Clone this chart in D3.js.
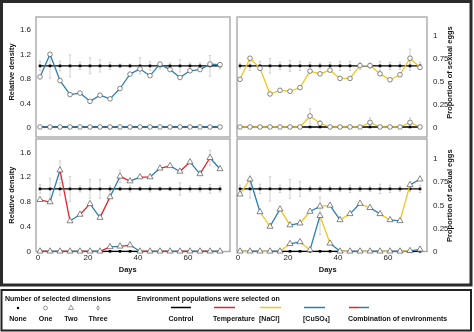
<!DOCTYPE html>
<html><head><meta charset="utf-8">
<script src="https://cdn.jsdelivr.net/npm/d3@7"></script>
<style>
html,body{margin:0;padding:0;background:#fff;}
svg{display:block;font-family:"Liberation Sans",Arial,sans-serif;will-change:transform;}
</style></head>
<body><svg id="c" width="474" height="332"></svg>
<script>
// ---------------- DATA ----------------
const days = [1,5,9,13,17,21,25,29,33,37,41,45,49,53,57,61,65,69,73];
const xTicks = [0,20,40,60];
const densityTicks = [0,0.4,0.8,1.2,1.6];
const propTicks = [0,0.25,0.5,0.75,1];

// control (relative density = 1, and zero line)
const controlDensity = [1,1,1,1,1,1,1,1,1,1,1,1,1,1,1,1,1,1,1];
const controlProp    = [0.667,0.667,0.667,0.667,0.667,0.667,0.667,0.667,0.667,0.667,0.667,0.667,0.667,0.667,0.667,0.667,0.667,0.667,0.667];
const controlZero    = [0,0,0,0,0,0,0,0,0,0,0,0,0,0,0,0,0,0,0];
const ctlErrTL = [0.08,0.2,0.08,0.18,0.06,0.13,0.1,0.06,0.03,0.03,0.13,0.07,0.05,0.05,0.1,0.05,0.05,0.17,0.05];
const ctlErrTR = [0.03,0.05,0.05,0.08,0.04,0.06,0.05,0.04,0.03,0.04,0.05,0.05,0.04,0.03,0.05,0.04,0.04,0.05,0.04];
const ctlErrBL = [0.07,0.17,0.1,0.2,0.05,0.15,0.15,0.05,0.03,0.05,0.03,0.05,0.03,0.03,0.1,0.05,0.05,0.07,0.05];
const ctlErrBR = [0.04,0.1,0.05,0.13,0.04,0.1,0.08,0.03,0.03,0.03,0.03,0.04,0.03,0.03,0.05,0.04,0.03,0.03,0.04];

// top-left: [CuSO4], one dimension
const tlUpper = [0.82,1.19,0.76,0.53,0.555,0.42,0.52,0.46,0.63,0.865,0.95,0.84,1.03,0.94,0.81,0.92,0.94,1.03,1.02];
const tlLower = [0,0,0,0,0,0,0,0,0,0,0,0,0,0,0,0,0,0,0];
// top-right: [NaCl], one dimension
const trUpper = [0.52,0.75,0.64,0.36,0.40,0.39,0.43,0.61,0.58,0.62,0.53,0.53,0.67,0.67,0.58,0.515,0.57,0.75,0.65];
const trLower = [0,0,0,0,0,0,0,0.12,0.04,0,0,0,0,0.05,0,0,0,0.05,0];
const trLowerErr = [null,null,null,null,null,null,null,0.08,0.03,null,null,null,null,0.05,null,null,null,0.05,null];
const trUpperErr = [null,null,null,null,null,null,null,null,null,null,null,null,null,null,null,null,null,0.1,null];
// bottom-left: temperature + [CuSO4], two dimensions
const blUpper = [0.826,0.79,1.30,0.485,0.59,0.76,0.54,0.87,1.20,1.125,1.19,1.19,1.33,1.37,1.28,1.43,1.24,1.50,1.32];
const blLower = [0,0,0,0,0,0,0,0.07,0.08,0.10,0,0,0,0,0,0,0,0,0];
const blUpperErr = [null,null,0.15,null,null,null,null,null,0.1,null,null,null,null,null,null,null,null,0.12,null];
// bottom-right: [NaCl] + [CuSO4], two dimensions
const brUpper = [0.61,0.77,0.42,0.265,0.45,0.28,0.30,0.425,0.48,0.49,0.335,0.40,0.51,0.465,0.40,0.335,0.325,0.71,0.77];
const brLower = [0,0,0,0,0,0.08,0.10,0.015,0.38,0.085,0,0,0,0,0,0,0,0.005,0.02];
const brLowerErr = [null,null,null,null,null,null,null,null,0.2,null,null,null,null,null,null,null,null,null,null];

// ---------------- STYLE ----------------
const RED = "#e3242b", YEL = "#f1c61f", BLU = "#2b7fb3", CTL = "#000";
const FRAME = "#a9a9a9", ERR = "#c4c4c4", MK = "#555", TXT = "#111";

const svg = d3.select("#c");

// outer frames
svg.append("rect").attr("x",1.5).attr("y",1.5).attr("width",469.5).attr("height",283.5)
  .attr("fill","none").attr("stroke","#2b2b2b").attr("stroke-width",3);
svg.append("rect").attr("x",1.5).attr("y",290).attr("width",469.5).attr("height",40.5)
  .attr("fill","none").attr("stroke","#222").attr("stroke-width",2);

const cols = [
  {frame:[36,230], x:d3.scaleLinear().domain([0,73]).range([37.5,220])},
  {frame:[237,427], x:d3.scaleLinear().domain([0,73]).range([237.5,420])}
];
const rows = [
  {frame:[17,137], zero:127, top:17},
  {frame:[139,251.5], zero:251.3, top:139}
];

const panels = [
  {c:0,r:0,unit:"density",upper:tlUpper,lower:tlLower,colors:[BLU,BLU],marker:d3.symbolCircle,ctl:controlDensity,ctlErr:ctlErrTL},
  {c:1,r:0,unit:"prop",upper:trUpper,lower:trLower,colors:[YEL,YEL],marker:d3.symbolCircle,ctl:controlProp,ctlErr:ctlErrTR,lowerErr:trLowerErr,upperErr:trUpperErr},
  {c:0,r:1,unit:"density",upper:blUpper,lower:blLower,colors:[RED,BLU],marker:d3.symbolTriangle,ctl:controlDensity,ctlErr:ctlErrBL,upperErr:blUpperErr},
  {c:1,r:1,unit:"prop",upper:brUpper,lower:brLower,colors:[YEL,BLU],marker:d3.symbolTriangle,ctl:controlProp,ctlErr:ctlErrBR,lowerErr:brLowerErr}
];

panels.forEach(p=>{
  const col = cols[p.c], row = rows[p.r];
  const x = col.x;
  const y = d3.scaleLinear().domain(p.unit==="density"?[0,1.8]:[0,1.2]).range([row.zero,row.top]);
  const g = svg.append("g");

  // frame
  g.append("rect").attr("x",col.frame[0]).attr("y",row.frame[0])
    .attr("width",col.frame[1]-col.frame[0]).attr("height",row.frame[1]-row.frame[0])
    .attr("fill","none").attr("stroke",FRAME).attr("stroke-width",1.4);

  const mid = (row.frame[0]+row.zero)/2;
  // axes
  if(p.c===0){
    const ax = g.append("g").attr("transform",`translate(${col.frame[0]},0)`)
      .call(d3.axisLeft(y).tickValues(densityTicks).tickSize(0).tickPadding(5).tickFormat(d=>d===0?"0":d3.format(".1f")(d)));
    ax.select(".domain").remove();
    ax.selectAll("text").attr("font-size",8).attr("fill","#222").style("font-family","Liberation Sans, Arial, sans-serif");
    g.append("text").attr("transform",`translate(14,${mid}) rotate(-90)`)
      .attr("text-anchor","middle").attr("font-size",7.5).attr("font-weight","bold").attr("fill",TXT).text("Relative density");
  } else {
    const ax = g.append("g").attr("transform",`translate(${col.frame[1]},0)`)
      .call(d3.axisRight(y).tickValues(propTicks).tickSize(0).tickPadding(6).tickFormat(d=>String(d)));
    ax.select(".domain").remove();
    ax.selectAll("text").attr("font-size",8).attr("fill","#222").style("font-family","Liberation Sans, Arial, sans-serif");
    g.append("text").attr("transform",`translate(452,${mid+0.5}) rotate(-90)`)
      .attr("text-anchor","middle").attr("font-size",7.5).attr("font-weight","bold").attr("fill",TXT).text("Proportion of sexual eggs");
  }
  if(p.r===1){
    const ax = g.append("g").attr("transform",`translate(0,${row.frame[1]})`)
      .call(d3.axisBottom(x).tickValues(xTicks).tickSize(0).tickPadding(3));
    ax.select(".domain").remove();
    ax.selectAll("text").attr("font-size",8).attr("fill","#222").style("font-family","Liberation Sans, Arial, sans-serif");
    g.append("text").attr("x",(x(0)+x(73))/2-1).attr("y",272).attr("text-anchor","middle")
      .attr("font-size",7.5).attr("font-weight","bold").attr("fill",TXT).text("Days");
  }

  // error bars
  const errBar = (vals, errs) => {
    days.forEach((d,i)=>{
      const e = errs && errs[i]; if(e==null) return;
      const cx = x(d), y1 = y(vals[i]+e), y2 = y(Math.max(vals[i]-e,0));
      g.append("line").attr("x1",cx).attr("x2",cx).attr("y1",y1).attr("y2",y2).attr("stroke",ERR).attr("stroke-width",0.8);
      [y1,y2].forEach(yy=>g.append("line").attr("x1",cx-1.2).attr("x2",cx+1.2).attr("y1",yy).attr("y2",yy).attr("stroke",ERR).attr("stroke-width",0.8));
    });
  };
  errBar(p.ctl, p.ctlErr);
  errBar(p.upper, p.upperErr);
  errBar(p.lower, p.lowerErr);

  // control lines
  const line = d3.line().x((v,i)=>x(days[i])).y(v=>y(v));
  [p.ctl, controlZero].forEach(vals=>{
    g.append("path").attr("d",line(vals)).attr("fill","none").attr("stroke",CTL).attr("stroke-width",1.3);
    g.selectAll(null).data(vals).enter().append("rect")
      .attr("x",(v,i)=>x(days[i])-1.3).attr("y",v=>y(v)-1.3).attr("width",2.6).attr("height",2.6).attr("fill",CTL);
  });

  // treatment lines (segments, alternating colour for combinations)
  [p.lower, p.upper].forEach(vals=>{
    for(let i=0;i<vals.length-1;i++){
      g.append("line").attr("x1",x(days[i])).attr("y1",y(vals[i])).attr("x2",x(days[i+1])).attr("y2",y(vals[i+1]))
        .attr("stroke",p.colors[i%2]).attr("stroke-width",1.3).attr("stroke-linecap","round");
    }
    const sym = d3.symbol().type(p.marker).size(p.marker===d3.symbolCircle?17:16);
    g.selectAll(null).data(vals).enter().append("path").attr("d",sym)
      .attr("transform",(v,i)=>`translate(${x(days[i])},${y(v)})`)
      .attr("fill","#fff").attr("stroke",MK).attr("stroke-width",0.7);
  });
});

// ---------------- LEGEND ----------------
const lg = svg.append("g");
const ltext = (xx,yy,s,anchor)=>lg.append("text").attr("x",xx).attr("y",yy).attr("text-anchor",anchor||"start")
  .attr("font-weight","bold").attr("font-size",7).attr("fill",TXT).text(s);
ltext(5,301,"Number of selected dimensions");
ltext(137,301,"Environment populations were selected on");

const dimSyms = [
  {label:"None", x:18, type:d3.symbolCircle, size:5, fill:"#000"},
  {label:"One", x:45.5, type:d3.symbolCircle, size:12, fill:"#fff"},
  {label:"Two", x:71, type:d3.symbolTriangle, size:11, fill:"#fff"},
  {label:"Three", x:98, type:d3.symbolDiamond, size:6, fill:"#fff"}
];
dimSyms.forEach(s=>{
  lg.append("path").attr("d",d3.symbol().type(s.type).size(s.size)).attr("transform",`translate(${s.x},308)`)
    .attr("fill",s.fill).attr("stroke",s.fill==="#000"?"none":MK).attr("stroke-width",0.6);
  ltext(s.x,320.5,s.label,"middle");
});

const envs = [
  {label:"Control", x0:171, x1:191, colors:[CTL], anchor:"middle"},
  {label:"Temperature", x0:214, x1:235, colors:[RED], anchor:"start"},
  {label:"[NaCl]", x0:260, x1:281, colors:[YEL], anchor:"start"},
  {label:"[CuSO4]", x0:304, x1:325, colors:[BLU], anchor:"start"},
  {label:"Combination of environments", x0:349, x1:369, colors:[RED,BLU], anchor:"start"}
];
envs.forEach(e=>{
  const n = e.colors.length, w = (e.x1-e.x0)/n;
  e.colors.forEach((c,i)=>lg.append("line").attr("x1",e.x0+i*w).attr("x2",e.x0+(i+1)*w)
    .attr("y1",307.5).attr("y2",307.5).attr("stroke",c).attr("stroke-width",1.5));
  const tx = e.anchor==="middle"?(e.x0+e.x1)/2:e.x0-1;
  if(e.label==="[CuSO4]"){
    const t = ltext(tx,320.5,"",e.anchor);
    t.append("tspan").text("[CuSO");
    t.append("tspan").attr("font-size",5).attr("dy",1.5).text("4");
    t.append("tspan").attr("dy",-1.5).text("]");
  } else ltext(tx,320.5,e.label,e.anchor);
});
</script></body></html>
